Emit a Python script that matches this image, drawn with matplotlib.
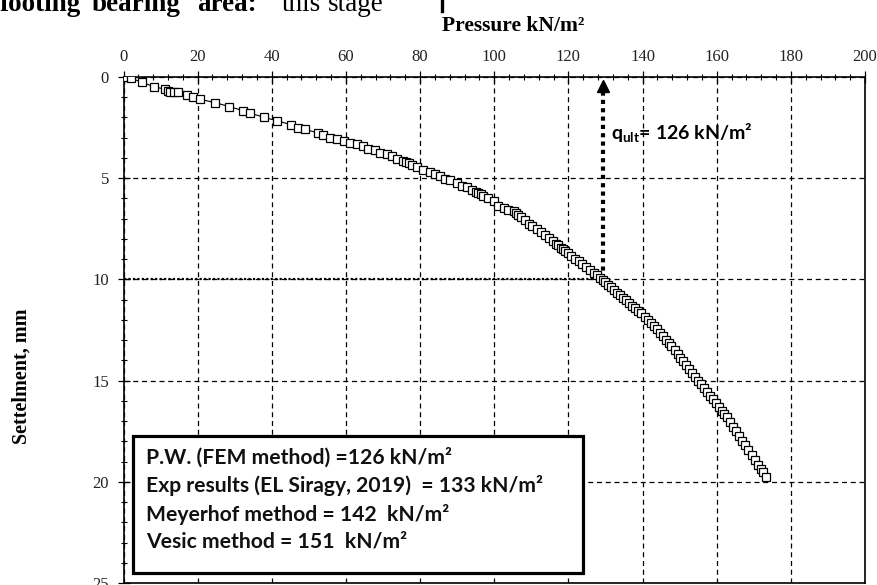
import matplotlib
matplotlib.use("Agg")
import matplotlib.pyplot as plt
from matplotlib.patches import Rectangle
from matplotlib.ticker import MultipleLocator

# ---------------- data ----------------
pressure = [0, 0.3, 2.1, 5.0, 8.2, 11.1, 12.0, 12.6, 13.5, 14.8, 17.1, 18.7, 20.5, 24.6,
            28.5, 32.2, 34.2, 37.9, 41.5, 45.3, 47.1, 48.9, 52.5, 53.9, 55.7, 57.5, 59.5,
            61.1, 62.9, 64.7, 66.0, 67.8, 69.2, 71.0, 72.3, 73.7, 75.5, 76.3, 77.0, 77.8,
            79.1, 80.9, 82.7, 84.1, 85.4, 86.8, 88.1, 89.9, 91.3, 92.6, 94.0, 95.0, 95.7,
            96.4, 97.1, 98.4, 99.8, 101.1, 102.5, 103.8, 105.2, 106.0, 106.5, 107.2, 108.4,
            109.3, 110.3, 111.4, 112.5, 113.6, 114.7, 115.8, 116.6, 117.2, 118.0, 118.5,
            119.0, 119.8, 120.8, 121.8, 122.8, 123.8, 124.8, 125.8, 126.8, 127.8, 128.6,
            129.3, 130.0, 130.8, 131.6, 132.4, 133.2, 134.0, 134.8, 135.6, 136.4, 137.2,
            138.0, 138.8, 139.6, 140.6, 141.4, 142.2, 143.0, 143.8, 144.6, 145.4, 146.2,
            147.0, 147.8, 148.7, 149.5, 150.2, 151.0, 151.8, 152.6, 153.4, 154.2, 154.9,
            155.7, 156.5, 157.3, 158.1, 158.9, 159.7, 160.5, 161.3, 162.0, 162.8, 163.6,
            164.4, 165.2, 166.0, 166.8, 167.6, 168.5, 169.4, 170.3, 171.2, 172.0, 172.5,
            173.4]
settlement = [0, 0, 0.07, 0.26, 0.48, 0.6, 0.67, 0.72, 0.75, 0.75, 0.89, 0.97, 1.1, 1.26,
              1.46, 1.66, 1.79, 1.99, 2.17, 2.36, 2.53, 2.58, 2.77, 2.89, 2.99, 3.07, 3.15,
              3.26, 3.31, 3.43, 3.55, 3.63, 3.76, 3.81, 3.92, 4.04, 4.17, 4.22, 4.27, 4.33,
              4.45, 4.58, 4.71, 4.78, 4.91, 5.04, 5.11, 5.24, 5.37, 5.43, 5.57, 5.66, 5.73,
              5.80, 5.9, 5.98, 6.15, 6.36, 6.48, 6.56, 6.64, 6.72, 6.8, 6.9, 7.05,
              7.24, 7.37, 7.52, 7.67, 7.82, 7.97, 8.12, 8.23, 8.32, 8.45, 8.51,
              8.58, 8.70, 8.83, 8.97, 9.10, 9.24, 9.38, 9.52, 9.66, 9.80, 9.92,
              10.03, 10.14, 10.27, 10.40, 10.52, 10.65, 10.78, 10.91, 11.04, 11.17, 11.30,
              11.43, 11.56, 11.68, 11.84, 11.99, 12.15, 12.31, 12.47, 12.63, 12.80, 12.97,
              13.14, 13.31, 13.50, 13.69, 13.86, 14.05, 14.24, 14.43, 14.62, 14.81, 15.00,
              15.18, 15.37, 15.55, 15.74, 15.92, 16.11, 16.29, 16.48, 16.64, 16.82, 17.05,
              17.28, 17.51, 17.73, 17.96, 18.20, 18.43, 18.68, 18.92, 19.17, 19.38, 19.52,
              19.78]

q_ult_value = 126
q_ult_arrow_x = 129.3
q_ult_arrow_y = 10.0
legend_lines = [
    "P.W. (FEM method) =126 kN/m\u00b2",
    "Exp results (EL Siragy, 2019)  = 133 kN/m\u00b2",
    "Meyerhof method = 142  kN/m\u00b2",
    "Vesic method = 151  kN/m\u00b2",
]
x_label = "Pressure kN/m\u00b2"
y_label = "Settelment, mm"

# ---------------- figure ----------------
W, H = 877, 585
fig = plt.figure(figsize=(W / 100, H / 100), dpi=100)
plt.rcParams['mathtext.fontset'] = 'custom'
plt.rcParams['mathtext.bf'] = 'Lato:bold'
plt.rcParams['mathtext.rm'] = 'Lato'

serif = 'Liberation Serif'
sans = 'Lato'

def fx(px):
    return px / W

def fy(py):
    return 1 - py / H

ax = fig.add_axes([fx(123.5), fy(583), fx(865) - fx(123.5), fy(77) - fy(583)])

ax.plot(pressure, settlement, color='black', lw=0.8, marker='s', ms=6.2,
        mfc='white', mec='black', mew=0.9, zorder=5)

ax.set_xlim(0, 200)
ax.set_ylim(25, 0)
ax.xaxis.set_major_locator(MultipleLocator(20))
ax.xaxis.set_minor_locator(MultipleLocator(4))
ax.yaxis.set_major_locator(MultipleLocator(5))
ax.yaxis.set_minor_locator(MultipleLocator(1))
ax.xaxis.tick_top()
ax.tick_params(axis='both', which='major', direction='inout', length=9, width=0.9,
               labelsize=12)
ax.tick_params(axis='both', which='minor', direction='inout', length=5, width=0.8)
ax.tick_params(axis='x', which='both', top=True, bottom=False, pad=4)
ax.tick_params(axis='y', which='both', left=True, right=False, pad=6)
for lab in ax.get_xticklabels() + ax.get_yticklabels():
    lab.set_fontfamily(serif)
    lab.set_color('#222222')

ax.grid(True, which='major', color='black', linestyle=(0, (4, 3)), lw=0.9, zorder=1)
for s in ax.spines.values():
    s.set_linewidth(1.2)
ax.set_axisbelow(True)

# q_ult marker lines
ax.plot([0, q_ult_arrow_x], [q_ult_arrow_y, q_ult_arrow_y], color='black', lw=1.6,
        linestyle=(0, (1, 1)), zorder=3)
ax.plot([q_ult_arrow_x, q_ult_arrow_x], [q_ult_arrow_y, 0.8], color='black', lw=3,
        linestyle=(0, (1, 1)), zorder=3)
ax.plot([q_ult_arrow_x], [0.45], marker='^', ms=8, color='black', zorder=4,
        clip_on=False)
ax.text(131.4, 2.76, r'$\mathbf{q}_{\mathbf{ult}}$' + f'= {q_ult_value} kN/m\u00b2',
        fontfamily=sans, fontweight='bold', fontsize=14, va='center', ha='left',
        zorder=6)

# results box
ax.add_patch(Rectangle((2.6, 17.74), 121.3, 6.76, facecolor='white', edgecolor='black',
                       lw=2.3, zorder=8))
line_y = [18.82, 20.2, 21.6, 22.97]
for txt, yy in zip(legend_lines, line_y):
    ax.text(6.05, yy, txt, fontfamily=sans, fontweight='bold', fontsize=15.2,
            va='center', ha='left', color='#111111', zorder=9)

# axis labels
fig.text(fx(442), fy(31), x_label, fontfamily=serif, fontweight='bold', fontsize=15.5,
         ha='left', va='baseline')
fig.text(fx(22), fy(376), y_label, fontfamily=serif, fontweight='bold', fontsize=14.5,
         ha='center', va='center', rotation=90)

# stray page text above the figure
words = [("footing", 0, 'bold'), ("bearing", 92, 'bold'), ("area:", 197, 'bold'),
         ("this", 282, 'normal'), ("stage", 328, 'normal')]
for w, xp, wt in words:
    fig.text(fx(xp), fy(11), w, fontfamily=serif, fontweight=wt, fontsize=19.5,
             ha='left', va='baseline')
fig.add_artist(plt.Line2D([fx(441.5), fx(441.5)], [fy(0), fy(11)], color='black',
                          lw=2.4))

fig.savefig('out.png', dpi=100)
